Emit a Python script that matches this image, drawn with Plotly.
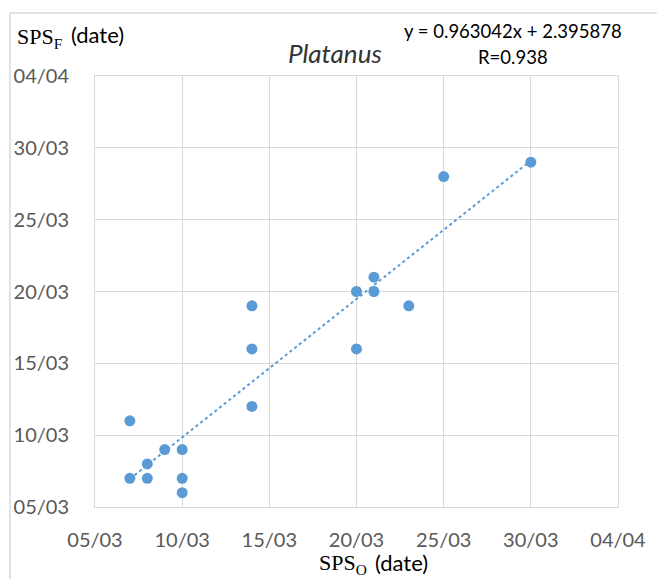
import plotly.graph_objects as go
import numpy as np

# Day-of-year values (non-leap year: 1 March = day 60)
sps_o = [66, 66, 67, 67, 68, 69, 69, 69, 73, 73, 73, 79, 79, 80, 80, 82, 84, 89]
sps_f = [66, 70, 67, 66, 68, 68, 66, 65, 78, 75, 71, 79, 75, 80, 79, 78, 87, 88]

slope = 0.963042
intercept = 2.395878
r_value = 0.938

tick_vals = [64, 69, 74, 79, 84, 89, 94]
tick_text = ["05/03", "10/03", "15/03", "20/03", "25/03", "30/03", "04/04"]

blue = "#5b9bd5"
grid = "#d9d9d9"
tick_font = dict(family="Lato", size=20, color="#595959")

x_line = np.array([min(sps_o), max(sps_o)], dtype=float)
y_line = slope * x_line + intercept

fig = go.Figure()
fig.add_trace(go.Scatter(x=x_line, y=y_line, mode="lines",
                         line=dict(color=blue, width=2, dash="dot"),
                         hoverinfo="skip", showlegend=False))
fig.add_trace(go.Scatter(x=sps_o, y=sps_f, mode="markers",
                         marker=dict(color=blue, size=11),
                         showlegend=False))

axis_common = dict(tickvals=tick_vals, ticktext=tick_text, showgrid=True,
                   gridcolor=grid, gridwidth=1, zeroline=False,
                   showline=True, linecolor=grid, linewidth=1, mirror=True,
                   tickfont=tick_font, ticks="", automargin=False)

fig.update_xaxes(range=[64, 94], ticklabelstandoff=15, **axis_common)
fig.update_yaxes(range=[64, 94], ticklabelstandoff=21, **axis_common)

W, H = 657, 579
L, R, T, B = 95, 39, 76, 72
pw, ph = W - L - R, H - T - B
def px(x):
    return (x - L) / pw
def py(y):
    return (H - B - y) / ph

serif = dict(family="Liberation Serif", size=22, color="#000000")
sans = dict(family="Lato", size=22, color="#000000")

annotations = [
    dict(text="<i>Platanus</i>", x=px(335), y=py(53), xref="paper", yref="paper",
         showarrow=False, font=dict(family="Lato", size=26, color="#333333"),
         xanchor="center", yanchor="middle"),
    dict(text="y = %.6fx + %.6f" % (slope, intercept), x=px(513), y=py(31),
         xref="paper", yref="paper", showarrow=False,
         font=dict(family="Lato", size=18.5, color="#000000"),
         xanchor="center", yanchor="middle"),
    dict(text="R=%.3f" % r_value, x=px(513), y=py(57),
         xref="paper", yref="paper", showarrow=False,
         font=dict(family="Lato", size=18.5, color="#000000"),
         xanchor="center", yanchor="middle"),
    dict(text="SPS<sub>F</sub>", x=px(15), y=py(38), xref="paper", yref="paper",
         showarrow=False, font=serif, xanchor="left", yanchor="middle"),
    dict(text="(date)", x=px(69), y=py(35), xref="paper", yref="paper",
         showarrow=False, font=sans, xanchor="left", yanchor="middle"),
    dict(text="SPS<sub>O</sub>", x=px(369), y=py(564), xref="paper", yref="paper",
         showarrow=False, font=serif, xanchor="right", yanchor="middle"),
    dict(text="(date)", x=px(373), y=py(562), xref="paper", yref="paper",
         showarrow=False, font=sans, xanchor="left", yanchor="middle"),
]

shapes = [
    dict(type="line", xref="paper", yref="paper", x0=px(10), x1=px(700),
         y0=py(13), y1=py(13), line=dict(color=grid, width=1.5), layer="below"),
    dict(type="line", xref="paper", yref="paper", x0=px(10), x1=px(10),
         y0=py(13), y1=py(700), line=dict(color=grid, width=1.5), layer="below"),
]

fig.update_layout(width=W, height=H, margin=dict(l=L, r=R, t=T, b=B),
                  plot_bgcolor="white", paper_bgcolor="white",
                  annotations=annotations, shapes=shapes)

fig.write_html("out.html")
